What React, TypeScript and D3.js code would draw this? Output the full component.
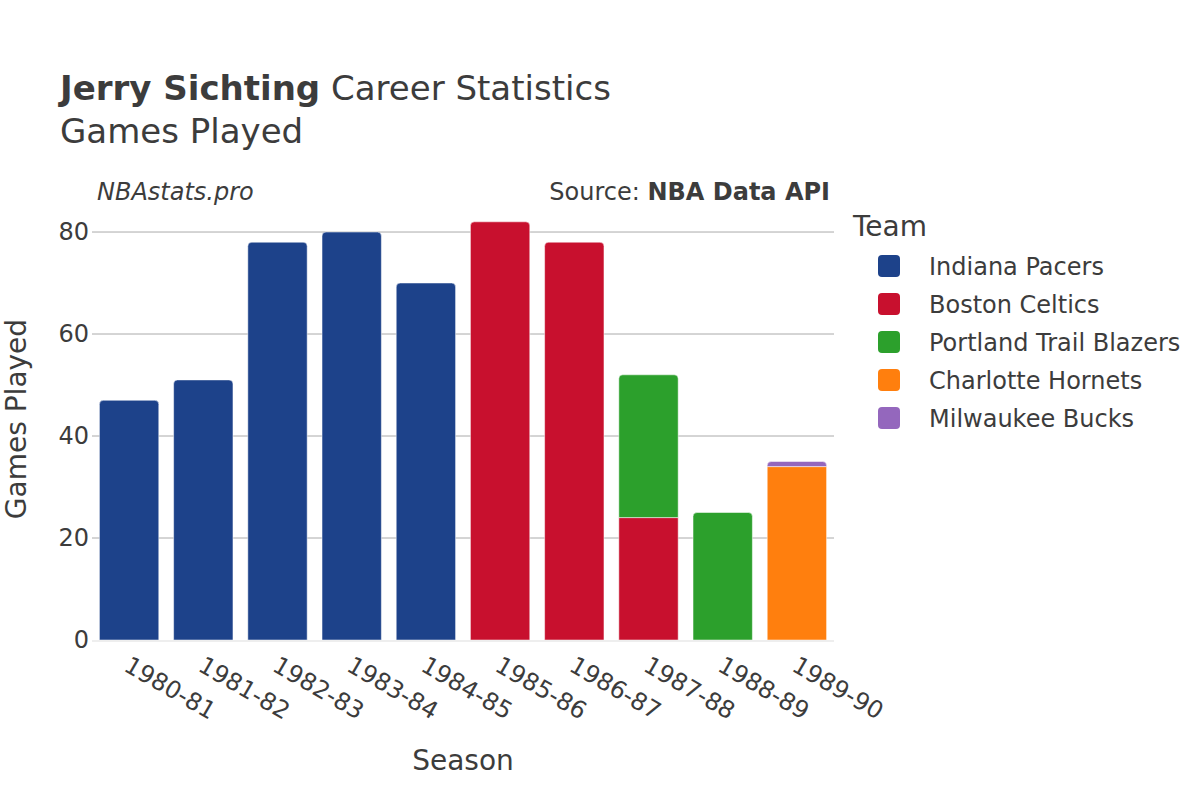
import React from "react";
import * as d3 from "d3";

const seasons = ["1980-81","1981-82","1982-83","1983-84","1984-85","1985-86","1986-87","1987-88","1988-89","1989-90"];
const teams = ["Indiana Pacers","Boston Celtics","Portland Trail Blazers","Charlotte Hornets","Milwaukee Bucks"];
const teamColors = ["#1d428a","#c8102e","#2ca02c","#ff7f0e","#9467bd"];
const indiana = [47,51,78,80,70,0,0,0,0,0];
const boston = [0,0,0,0,0,82,78,24,0,0];
const portland = [0,0,0,0,0,0,0,28,25,0];
const charlotte = [0,0,0,0,0,0,0,0,0,34];
const milwaukee = [0,0,0,0,0,0,0,0,0,1];
const yTicks = [0,20,40,60,80];

const W = 1200, H = 800;
const M = { left: 92, right: 834, top: 180, bottom: 640 };
const FONT = "'DejaVu Sans', Verdana, sans-serif";
const TXT = "#3c3c3c";

export default function App() {
  const series = [indiana, boston, portland, charlotte, milwaukee];
  const rows = seasons.map((s, i) => {
    const r: any = { season: s };
    teams.forEach((t, j) => (r[t] = series[j][i]));
    return r;
  });
  const stacked = d3.stack().keys(teams)(rows);
  const x = d3.scaleBand().domain(seasons).range([M.left, M.right]).paddingInner(0.2).paddingOuter(0.1);
  const y = d3.scaleLinear().domain([0, 90.2]).range([M.bottom, M.top]);
  const topIdx = seasons.map((_, i) => {
    let k = -1;
    series.forEach((s, j) => { if (s[i] > 0) k = j; });
    return k;
  });
  const barPath = (x0: number, x1: number, y0: number, y1: number, round: boolean) => {
    const h = y0 - y1;
    const r = round ? Math.min(4, h, (x1 - x0) / 2) : 0;
    return `M${x0},${y0}L${x0},${y1 + r}Q${x0},${y1} ${x0 + r},${y1}L${x1 - r},${y1}Q${x1},${y1} ${x1},${y1 + r}L${x1},${y0}Z`;
  };

  return (
    <svg width={W} height={H} style={{ display: "block", position: "absolute", left: 0, top: 0 }} fontFamily={FONT}>
      <rect width={W} height={H} fill="#fff" />
      <text x={60} y={100} fontSize={34} fill={TXT}>
        <tspan fontWeight="bold">Jerry Sichting</tspan> Career Statistics
      </text>
      <text x={60} y={143} fontSize={34} fill={TXT}>Games Played</text>
      <text x={97} y={200} fontSize={24} fill={TXT} fontStyle="italic">NBAstats.pro</text>
      <text x={830} y={200} fontSize={24} fill={TXT} textAnchor="end">
        Source: <tspan fontWeight="bold">NBA Data API</tspan>
      </text>

      {yTicks.filter(t => t > 0).map(t => (
        <line key={t} x1={M.left} x2={M.right} y1={y(t)} y2={y(t)} stroke="#aaa" strokeWidth={1} />
      ))}
      {yTicks.map(t => (
        <text key={t} x={M.left - 3} y={y(t) + 8} fontSize={24} fill={TXT} textAnchor="end">{t}</text>
      ))}

      {stacked.map((layer, j) => (
        <g key={layer.key} fill={teamColors[j]}>
          {layer.map((d, i) => {
            if (d[1] - d[0] <= 0) return null;
            const x0 = x(seasons[i])!;
            const x1 = x0 + x.bandwidth();
            return (
              <path key={i} d={barPath(x0, x1, y(d[0]), y(d[1]), topIdx[i] === j)} stroke="#fff" strokeWidth={0.5} />
            );
          })}
        </g>
      ))}
      <line x1={M.left} x2={M.right} y1={y(0) + 1} y2={y(0) + 1} stroke="#eee" strokeWidth={2} />

      {seasons.map(s => {
        const cx = x(s)! + x.bandwidth() / 2;
        return (
          <text key={s} transform={`translate(${cx - 3},${664}) rotate(30)`} fontSize={24} fill={TXT} textAnchor="start" dominantBaseline="middle">{s}</text>
        );
      })}

      <text x={463} y={770} fontSize={28} fill={TXT} textAnchor="middle">Season</text>
      <text transform={`translate(26,${419}) rotate(-90)`} fontSize={28} fill={TXT} textAnchor="middle">Games Played</text>

      <text x={853} y={236} fontSize={28} fill={TXT}>Team</text>
      {teams.map((t, j) => (
        <g key={t} transform={`translate(0,${266 + j * 38})`}>
          <rect x={878} y={-11} width={22} height={22} rx={4} fill={teamColors[j]} />
          <text x={929} y={8.5} fontSize={24} fill={TXT}>{t}</text>
        </g>
      ))}
    </svg>
  );
}
